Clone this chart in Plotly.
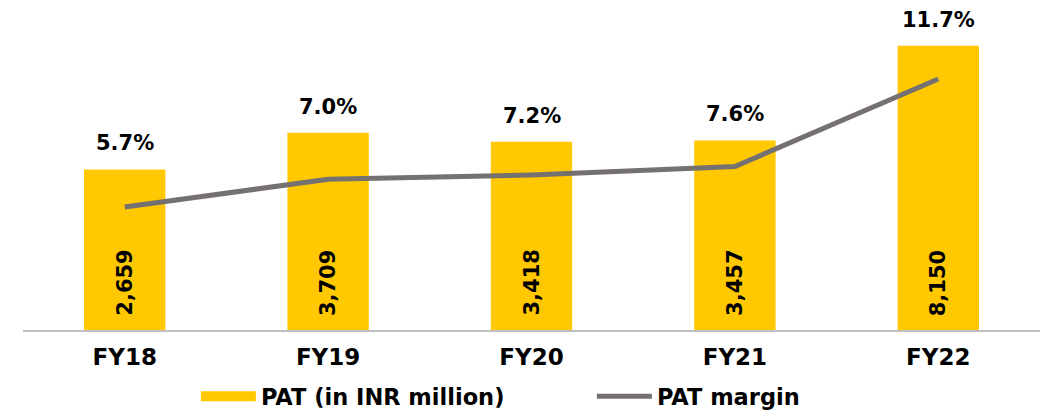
import numpy as np
import plotly.graph_objects as go

# ─── Data ─────────────────────────────────────────────────────────────────────
years      = ["FY18", "FY19", "FY20", "FY21", "FY22"]
pat        = [2659, 3709, 3418, 3457, 8150]
pat_margin = [5.7, 7.0, 7.2, 7.6, 11.7]

# ─── Theme ────────────────────────────────────────────────────────────────────
BAR_CLR  = "#FFC800"
LINE_CLR = "#767171"
AXIS_CLR = "#BFBFBF"
TEXT_CLR = "#000000"
FONT     = "DejaVu Sans"

fig = go.Figure()

# bars (legend handled by proxy trace so the swatch is wide)
fig.add_trace(go.Bar(
    x=years, y=pat,
    marker=dict(color=BAR_CLR, line_width=0),
    showlegend=False,
    hoverinfo="skip",
))
fig.add_trace(go.Scatter(
    x=[None], y=[None], mode="lines",
    name="PAT (in INR million)",
    line=dict(color=BAR_CLR, width=12),
))
fig.add_trace(go.Scatter(
    x=years, y=pat_margin,
    mode="lines", name="PAT margin",
    yaxis="y2",
    line=dict(color=LINE_CLR, width=5),
))

# value labels inside the bars
for yr, v in zip(years, pat):
    fig.add_annotation(
        x=yr, y=0, yref="y domain", yanchor="bottom", yshift=12,
        text=f"{v:,}", textangle=-90, showarrow=False,
        font=dict(size=21, color=TEXT_CLR),
    )

# margin labels above the bars
for yr, v, m in zip(years, pat, pat_margin):
    fig.add_annotation(
        x=yr, y=np.log10(v), yref="y", yanchor="middle", yshift=26,
        text=f"{m:.1f}%", showarrow=False,
        font=dict(size=21, color=TEXT_CLR),
    )

fig.update_layout(
    width=1046, height=413,
    paper_bgcolor="white", plot_bgcolor="white",
    font=dict(family=FONT, color=TEXT_CLR, size=21, weight="bold"),
    margin=dict(l=23, r=6, t=5, b=83, autoexpand=False),
    bargap=0.6,
    xaxis=dict(
        showline=True, linecolor=AXIS_CLR, linewidth=2,
        showgrid=False, ticks="", tickfont=dict(size=23),
        ticklabelstandoff=5, automargin=False,
    ),
    yaxis=dict(
        type="log", range=[2.7936, 4.0711],
        showgrid=False, showticklabels=False, zeroline=False,
    ),
    yaxis2=dict(
        overlaying="y", side="right", range=[-0.066, 15.17],
        showgrid=False, showticklabels=False, zeroline=False,
    ),
    legend=dict(
        orientation="h", x=0.170, xanchor="left", y=-0.205, yanchor="middle",
        itemwidth=55, entrywidth=326, bgcolor="rgba(0,0,0,0)",
        font=dict(size=22.5, color=TEXT_CLR),
    ),
    showlegend=True,
)

fig.write_html("out.html", config={"displayModeBar": False},
               post_script="document.body.style.margin='0';")
